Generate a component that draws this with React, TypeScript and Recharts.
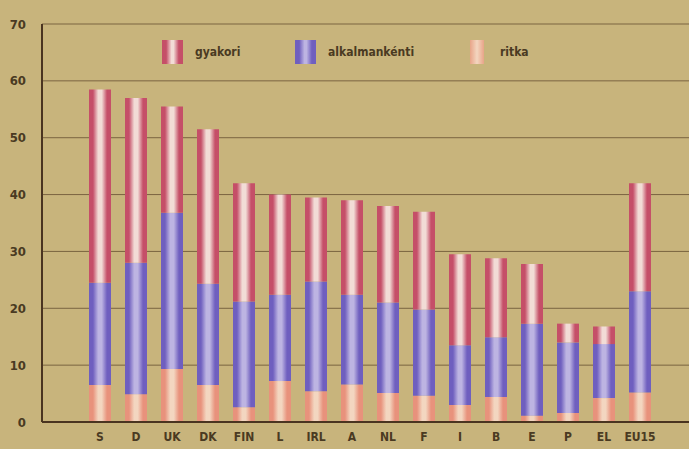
import React from "react";
import { BarChart, Bar, XAxis, YAxis, CartesianGrid } from "recharts";

const countries = ["S", "D", "UK", "DK", "FIN", "L", "IRL", "A", "NL", "F", "I", "B", "E", "P", "EL", "EU15"];
const ritka = [6.5, 4.9, 9.3, 6.5, 2.6, 7.2, 5.4, 6.6, 5.1, 4.6, 3, 4.4, 1.1, 1.6, 4.2, 5.2];
const alkalmankenti = [18, 23.1, 27.5, 17.8, 18.6, 15.2, 19.3, 15.8, 15.9, 15.2, 10.5, 10.5, 16.2, 12.4, 9.5, 17.8];
const gyakori = [34, 29, 18.7, 27.2, 20.8, 17.6, 14.8, 16.6, 17, 17.2, 16, 13.9, 10.5, 3.3, 3.1, 19];
const yTicks = [0, 10, 20, 30, 40, 50, 60, 70];

const data = countries.map((name, i) => ({
  name,
  ritka: ritka[i],
  alkalmankenti: alkalmankenti[i],
  gyakori: gyakori[i],
}));

const font = "'DejaVu Sans Condensed', 'Liberation Sans Narrow', sans-serif";
const ink = "#4a3a22";

const stripe = (id: string, edge: string, core: string) => (
  <linearGradient id={id} x1="0" y1="0" x2="1" y2="0">
    <stop offset="0" stopColor={edge} />
    <stop offset="0.18" stopColor={edge} />
    <stop offset="0.42" stopColor={core} />
    <stop offset="0.58" stopColor={core} />
    <stop offset="0.82" stopColor={edge} />
    <stop offset="1" stopColor={edge} />
  </linearGradient>
);

// legend drawn as an overlay so it takes no room from the plot
const legendItems = [
  { label: "gyakori", x: 162, w: 21, bg: "linear-gradient(90deg,#c54f68 0%,#c54f68 20%,#f2dcd6 45%,#f2dcd6 55%,#c54f68 80%,#c54f68 100%)" },
  { label: "alkalmankénti", x: 295, w: 21, bg: "linear-gradient(90deg,#6f5fbf 0%,#6f5fbf 20%,#bdb4e2 45%,#bdb4e2 55%,#6f5fbf 80%,#6f5fbf 100%)" },
  { label: "ritka", x: 470, w: 14, bg: "linear-gradient(90deg,#e8a488 0%,#f3d6c0 50%,#e8a488 100%)" },
];

export default function App() {
  return (
    <div style={{ position: "absolute", left: 0, top: 0, width: 689, height: 449, background: "#c8b47c" }}>
      <BarChart width={689} height={449} data={data} margin={{ top: 24, right: 0, bottom: 0, left: 0 }} barSize={22}>
        <defs>
          {stripe("gGy", "#c54f68", "#f2dcd6")}
          {stripe("gAl", "#6f5fbf", "#bdb4e2")}
          {stripe("gRi", "#e8927c", "#f3d6c0")}
        </defs>
        <CartesianGrid vertical={false} stroke="#7a6440" strokeWidth={1} />
        <XAxis
          dataKey="name"
          padding={{ left: 40, right: 31 }}
          axisLine={{ stroke: "#4a3420", strokeWidth: 2 }}
          tickLine={false}
          height={27}
          tickMargin={4}
          interval={0}
          tick={{ fill: ink, fontSize: 12, fontFamily: font, fontWeight: "bold" }}
        />
        <YAxis
          domain={[0, 70]}
          ticks={yTicks}
          width={42}
          axisLine={{ stroke: "#4a3420", strokeWidth: 2 }}
          tickLine={false}
          tickMargin={10}
          tick={{ fill: ink, fontSize: 13, fontFamily: font, fontWeight: "bold" }}
        />
        <Bar dataKey="ritka" stackId="a" fill="url(#gRi)" isAnimationActive={false} />
        <Bar dataKey="alkalmankenti" stackId="a" fill="url(#gAl)" isAnimationActive={false} />
        <Bar dataKey="gyakori" stackId="a" fill="url(#gGy)" isAnimationActive={false} />
      </BarChart>
      {legendItems.map((it) => (
        <div key={it.label} style={{ position: "absolute", left: it.x, top: 40, display: "flex", alignItems: "center" }}>
          <div style={{ width: it.w, height: 24, background: it.bg }} />
          <span style={{ marginLeft: it.label === "ritka" ? 16 : 12, fontFamily: font, fontSize: 12, fontWeight: "bold", color: ink }}>
            {it.label}
          </span>
        </div>
      ))}
    </div>
  );
}
